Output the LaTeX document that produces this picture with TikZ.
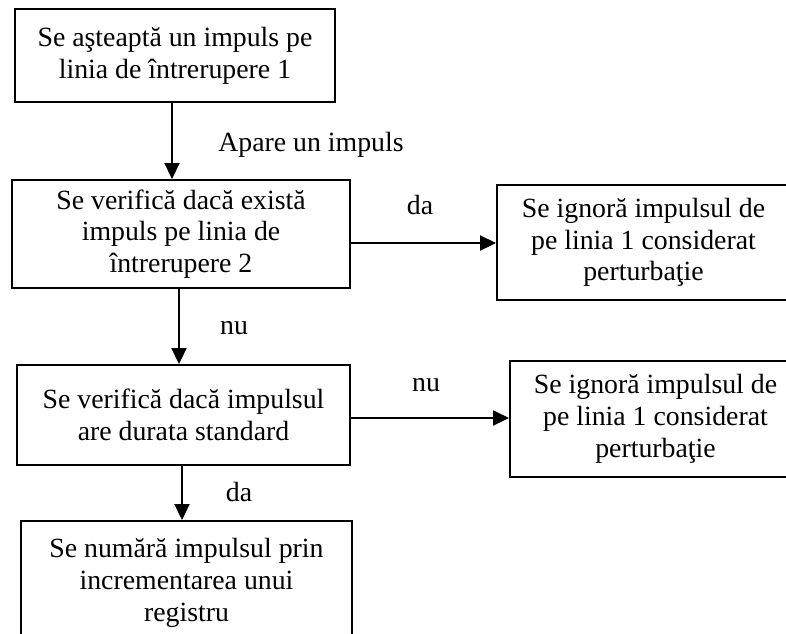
\documentclass[tikz,border=0pt]{standalone}
\usepackage{fontspec}
\setmainfont{Liberation Serif}
\usetikzlibrary{positioning, arrows.meta}

\begin{document}
\begin{tikzpicture}[
    x=1pt, y=-1pt,
    font=\fontsize{27.8}{31.8}\selectfont,
    box/.style={
        rectangle,
        draw,
        line width=2pt,
        align=center,
        inner sep=0pt
    },
    edge/.style={line width=2.2pt, -{Triangle[length=16pt,width=15pt]}},
    lbl/.style={inner sep=0pt}
]
\useasboundingbox (0,0) rectangle (786,633);
\clip (0,0) rectangle (786,633);

\node[box, minimum width=320pt, minimum height=93pt] (wait) at (175,55.5) {Se aşteaptă un impuls pe\\linia de întrerupere 1};
\node[box, minimum width=338pt, minimum height=108pt] (check1) at (181,234) {Se verifică dacă există\\impuls pe linia de\\întrerupere 2};
\node[box, minimum width=293pt, minimum height=115pt] (ignoreA) at (643.5,242.5) {Se ignoră impulsul de\\pe linia 1 considerat\\perturbaţie};
\node[box, minimum width=333pt, minimum height=100pt] (check2) at (183.5,415) {Se verifică dacă impulsul\\are durata standard};
\node[box, minimum width=291pt, minimum height=116pt] (ignoreB) at (655.5,419) {Se ignoră impulsul de\\pe linia 1 considerat\\perturbaţie};
\node[box, minimum width=331pt, minimum height=124pt] (count) at (186.5,583) {Se numără impulsul prin\\incrementarea unui\\registru};

\draw[edge] ([xshift=-3pt]wait.south) -- ([xshift=-3pt]wait.south |- check1.north);
\draw[edge] ([xshift=-2pt]check1.south) -- ([xshift=-2pt]check1.south |- check2.north);
\draw[edge] ([xshift=-1.5pt]check2.south) -- ([xshift=-1.5pt]check2.south |- count.north);
\draw[edge] ([yshift=-9pt]check1.east) -- ([yshift=-9pt]check1.east -| ignoreA.west);
\draw[edge] ([yshift=-3pt]check2.east) -- ([yshift=-3pt]check2.east -| ignoreB.west);

% labels
\node[lbl] (l1) at (311,145) {Apare un impuls};
\node[lbl] (l2) at (420,205) {da};
\node[lbl] (l3) at (234,328) {nu};
\node[lbl] (l4) at (426,385) {nu};
\node[lbl] (l5) at (239,492) {da};

\end{tikzpicture}
\end{document}
